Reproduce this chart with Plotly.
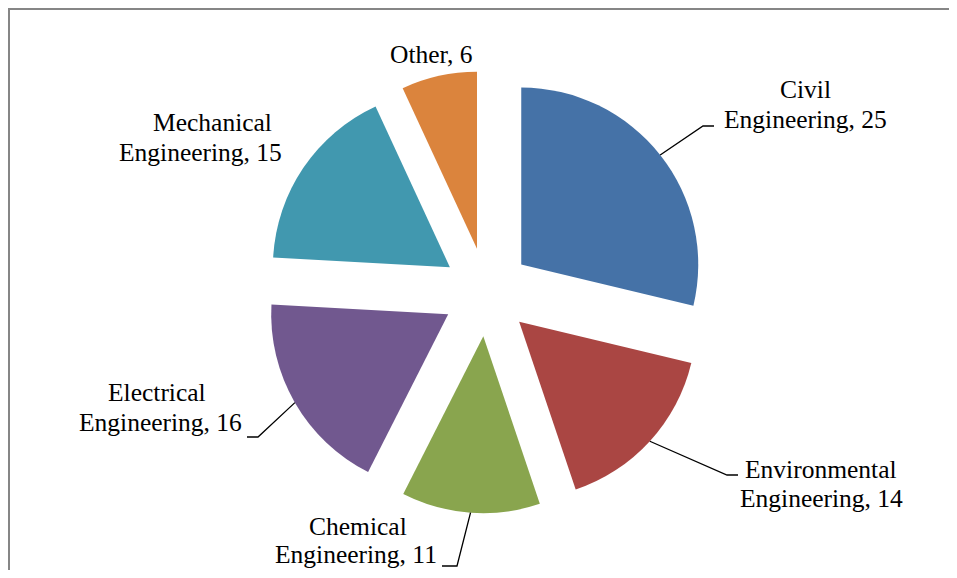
import math
import plotly.graph_objects as go

PAGE_W, PAGE_H = 957, 578
OFF = 8                      # default body margin of the html page
FW, FH = PAGE_W - 2 * OFF, PAGE_H - 2 * OFF

categories = ["Civil Engineering", "Environmental Engineering", "Chemical Engineering",
              "Electrical Engineering", "Mechanical Engineering", "Other"]
values = [25, 14, 11, 16, 15, 6]
colors = ["#4572A7", "#AA4643", "#89A54E", "#71588F", "#4198AF", "#DB843D"]
PULL = 0.25

# label line anchors (page pixels: centre x, baseline y), one per text line
label_lines_pos = [
    [(805, 97), (805, 127)],
    [(821, 477), (821, 506)],
    [(358, 534), (356, 562)],
    [(157, 400), (160, 430)],
    [(212, 130), (200, 160)],
    [(431, 62)],
]
# leader line elbows (page pixels): label end, elbow; the line then runs to the slice arc
leader_elbows = [
    [(714, 126), (703, 126)],
    [(738, 475), (727, 475)],
    [(442, 566), (457, 566)],
    [(247, 437), (258, 437)],
    None,
    None,
]

FONT = dict(family="Liberation Serif", size=25.5, color="black")


def px(x, y):
    return (x - OFF) / FW, 1 - (y - OFF) / FH


def label_lines(cat, val):
    parts = cat.split(" ", 1)
    if len(parts) == 2:
        return [parts[0], f"{parts[1]}, {val}"]
    return [f"{cat}, {val}"]


# pie placement (page pixels)
cx, cy, r = 486.5, 292, 177
half = r * (1 + PULL)

fig = go.Figure(go.Pie(
    labels=categories,
    values=values,
    marker=dict(colors=colors, line=dict(width=0)),
    pull=[PULL] * len(values),
    sort=False,
    direction="clockwise",
    rotation=0,
    textinfo="none",
    hoverinfo="label+value",
    showlegend=False,
    domain=dict(x=[px(cx - half, 0)[0], px(cx + half, 0)[0]],
                y=[px(0, cy + half)[1], px(0, cy - half)[1]]),
))

total = sum(values)
annotations, shapes = [], []
cum = 0
for cat, val, poss, elbows in zip(categories, values, label_lines_pos, leader_elbows):
    mid = (cum + val / 2) / total * 2 * math.pi
    cum += val
    dx, dy = math.sin(mid), -math.cos(mid)
    arc_x = cx + (PULL * r + r) * dx
    arc_y = cy + (PULL * r + r) * dy
    for text, (lx, ly) in zip(label_lines(cat, val), poss):
        ax, ay = px(lx, ly - 0.3 * FONT["size"])
        annotations.append(dict(
            x=ax, y=ay, xref="paper", yref="paper", xanchor="center", yanchor="middle",
            text=text, showarrow=False, font=FONT, borderpad=0,
        ))
    if elbows:
        pts = elbows + [(arc_x, arc_y)]
        d = "M " + " L ".join(f"{px(x, y)[0]},{px(x, y)[1]}" for x, y in pts)
        shapes.append(dict(type="path", path=d, xref="paper", yref="paper",
                           line=dict(color="black", width=1.3)))

# chart-area frame (its right and bottom sides lie outside the picture)
x0, y0 = px(OFF + 1, OFF + 1)
shapes.append(dict(type="rect", xref="paper", yref="paper", x0=x0, y0=y0, x1=1.05, y1=-0.05,
                   line=dict(color="#868686", width=2)))

fig.update_layout(
    width=FW, height=FH,
    margin=dict(l=0, r=0, t=0, b=0),
    paper_bgcolor="white", plot_bgcolor="white",
    annotations=annotations, shapes=shapes,
)

fig.write_html("out.html")
